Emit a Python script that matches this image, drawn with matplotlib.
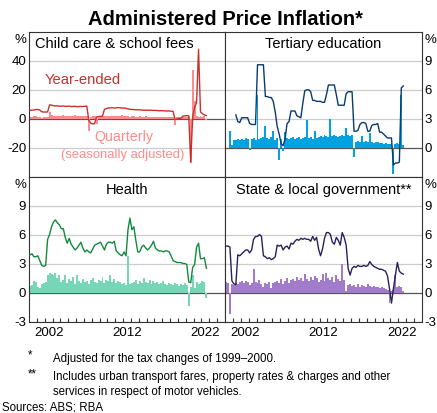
import numpy as np
import matplotlib.pyplot as plt

plt.rcParams['font.family'] = ['Liberation Sans', 'DejaVu Sans']

# quarterly observations, 2000 Q1 to 2022 Q3 (plotted at mid-quarter)
quarters = 2000.125 + 0.25 * np.arange(91)

childcare_ye = [5.8, 5.9, 6.0, 6.3, 6.4, 6.0, 4.8, 4.6, 4.6, 4.7,
                9.6, 9.4, 9.0, 8.8, 8.9, 8.6, 8.7, 8.8, 8.5, 8.6,
                8.7, 8.4, 8.5, 8.6, 8.3, 8.4, 8.5, 8.4, 8.6, 8.7,
                -1.0, -3.0, -3.6, -3.4, 1.2, 1.5, 1.6, 1.8,
                6.5, 7.0, 7.4, 7.5, 7.6, 7.4, 7.5, 7.7, 7.6, 7.3, 7.4, 7.2,
                6.8, 6.5, 6.4, 6.3, 6.2, 6.1, 6.2, 6.0, 5.9, 5.9,
                5.8, 5.9, 5.8, 5.7, 5.8, 5.6, 5.5, 5.6, 5.5, 5.4,
                5.3, 5.4, 5.2, 5.1,
                -0.5, -0.3, 0.0, 0.2, 1.8, 2.0, 2.1, 2.0,
                -30.0, 1.0, 8.0, 11.0, 48.0, 4.6, 3.5, 2.6, 2.2]
childcare_q = [1.5, 1.4, 1.6, 1.7, 1.4, 1.3, 0.4, 1.5, 1.4, 1.5,
               4.5, 2.3, 1.8, 2.0, 2.2, 1.9, 2.1, 2.4, 1.8, 2.0,
               2.2, 1.9, 2.1, 2.3, 1.8, 2.0, 2.2, 2.0, 2.1, 2.2,
               -8.7, 1.5, 1.8, 1.6, -3.5, 1.8, 1.9, 1.7,
               1.9, 2.0, 1.8, 2.1, 1.9, 1.7, 1.9, 2.0, 1.8, 2.4,
               1.6, 1.7, 1.6, 1.5, 1.6, 1.7, 1.5, 1.4, 1.6, 1.5,
               1.4, 1.6, 1.5, 1.3, 1.4, 1.5, 1.4, 1.3, 1.5, 1.4,
               1.3, 1.2, 1.4, 1.3, 1.2, 1.3,
               -4.5, 1.2, 1.4, 1.3, 1.2, 1.3, 1.2, 1.0,
               -31.0, 34.0, 12.0, 2.0, 1.5, 1.8, 1.4, 1.6, -0.8]

nan = np.nan
tertiary_ye = [nan, nan, nan, nan, nan, 3.4, 2.7, 2.6, 3.1, 3.1,
               3.1, 3.1, 2.5, 2.4, 2.4, 2.4, 8.6, 8.6, 8.6, 8.6,
               5.3, 5.3, 5.2, 5.2, 4.8, 3.7, 2.2, 1.4, 0.4, 0.2,
               0.9, 2.5, 2.7, 3.8, 3.8, 3.8, 3.3, 3.2, 3.1, 4.6,
               5.9, 6.0, 6.0, 5.8, 4.9, 4.9, 4.8, 4.8, 4.8, 4.7,
               4.7, 5.5, 6.5, 6.5, 6.5, 6.5, 5.5, 4.4, 4.4, 4.4,
               4.4, 5.6, 5.8, 5.8, 5.8, 1.7, 1.7, 1.8, 2.4, 2.6,
               2.6, 2.5, 1.7, 1.7, 2.3, 2.4, 2.4, 2.5, 1.6, 1.6,
               1.4, 1.2, 1.0, 1.0, 1.0, -1.8, -1.6, -1.6, -1.5, 6.2, 6.4]
tertiary_q = [nan, nan, 1.7, 0.3, 0.8, 0.8, 0.9, 0.8, 0.9, 0.8,
              1.0, 0.9, -0.3, 0.9, 1.0, 0.8, 5.5, 0.9, 1.0, 1.1,
              2.2, 1.0, 0.9, 1.1, 1.7, 0.8, 1.0, -1.3, 0.9, -0.4,
              1.6, 1.0, 0.9, 1.0, 1.1, 0.9, 1.0, 1.1, 0.9, 1.0,
              1.1, 2.9, 1.0, 1.1, 0.9, 1.7, 1.0, 1.1, 1.2, 1.1,
              1.3, 1.2, 1.1, 3.0, 1.2, 1.3, 1.2, 1.1, 1.2, 1.3,
              1.2, 2.0, 1.3, 1.2, 1.3, -1.0, 0.6, 0.7, 0.6, 1.2,
              0.6, 0.7, 0.6, 1.5, 0.6, 0.5, 0.6, 0.6, 0.5, 0.5,
              0.4, 0.5, 0.4, 0.4, 0.4, -2.7, 0.4, 0.5, 0.4, 5.5, 0.3]

health_ye = [3.9, 4.0, 3.7, 3.7, 3.8, 3.3, 2.8, 2.7, 2.8, 5.5,
             6.0, 6.8, 7.3, 7.5, 7.2, 7.0, 6.6, 6.6, 5.7, 5.1,
             5.6, 5.0, 4.7, 4.4, 4.6, 4.9, 5.2, 4.6, 4.2, 4.4,
             4.2, 4.1, 4.5, 4.9, 5.0, 5.1, 5.2, 4.8, 4.4, 5.0,
             5.2, 5.2, 5.1, 5.3, 4.3, 4.1, 3.9, 3.8, 4.2, 3.8,
             6.5, 7.7, 6.5, 6.8, 5.4, 4.2, 4.2, 4.7, 4.9, 4.6,
             4.4, 4.6, 4.9, 5.3, 4.6, 4.4, 4.3, 4.3, 4.2, 4.3,
             4.3, 4.2, 3.8, 3.3, 3.2, 3.1, 3.1, 3.1, 3.0, 3.0,
             2.9, 1.1, 1.0, 2.6, 2.9, 4.7, 5.1, 3.5, 3.5, 3.6, 2.5]
health_q = [0.7, 0.8, 1.2, 1.1, 0.6, 0.5, 0.9, 1.0, 1.1,
            1.8, 2.0, 1.9, 1.8, 2.0, 1.5, 1.8, 1.1, 1.3, 1.8, 1.0,
            1.4, 1.2, 1.6, 0.9, 1.8, 1.2, 1.0, 1.4, 1.1, 1.2,
            0.9, 1.3, 1.5, 1.1, 1.0, 1.3, 1.2, 1.6, 1.0, 1.3,
            1.2, 1.8, 1.1, 1.4, 1.0, 1.2, 1.1, 0.9, 1.0, 0.8,
            3.8,
            0.9, 1.0, 1.1, 1.3, 0.9, 1.2, 1.0, 1.5, 1.1, 1.0,
            1.3, 0.9, 1.2, 1.0, 1.1, 0.9, 1.0, 1.2, 0.9, 0.8,
            1.0, 0.9, 0.8, 1.0, 0.9, 0.7, 0.9, 0.8, 1.0, 0.8,
            -1.4, 0.6, 1.8, 0.5, 1.1, 0.9, 1.0, 1.2, 1.1, -0.6]

state_ye = [4.8, 4.8, 4.7, 1.2, 0.9, 0.8, 3.9, 3.8, 4.0, 4.2,
            4.4, 4.4, 4.1, 4.4, 5.5, 5.8, 5.8, 6.0, 5.8, 3.8,
            3.7, 3.5, 3.6, 3.4, 3.5, 3.7, 4.9, 4.8, 4.9, 4.4,
            4.7, 4.8, 4.5, 5.1, 5.0, 5.3, 5.5, 5.4, 5.6, 5.5,
            5.6, 5.5, 5.5, 5.3, 5.8, 5.4, 5.7, 4.5, 3.8, 4.5,
            5.6, 6.2, 6.2, 6.0, 5.2, 5.0, 5.7, 5.4, 4.9, 6.2,
            5.7, 4.9, 2.5, 1.8, 2.5, 2.7, 2.6, 2.8, 2.7, 2.7,
            2.8, 2.7, 2.8, 3.2, 2.9, 2.7, 2.6, 2.5, 2.4, 2.4,
            2.3, 2.2, 1.7, 0.4, -1.1, 0.4, 1.8, 3.1, 2.2, 2.0, 1.9]
state_q = [1.1, 1.0, -2.2, 0.9, 0.8, 1.0, 0.9, 1.1, 1.2, 1.0,
           1.2, 1.1, 0.8, 1.0, 2.4, 1.1, 1.0, 1.3, 0.9, 0.6,
           1.0, 0.9, 1.1, 0.5, 1.0, 1.1, 1.2, 1.0, 1.4, 0.9,
           1.2, 1.5, 1.0, 1.3, 1.4, 1.2, 1.6, 1.3, 1.5, 1.2,
           1.9, 1.4, 1.2, 1.6, 1.3, 1.7, 1.5, 1.1, 1.3, 1.9,
           1.2, 2.0, 1.5, 1.3, 1.6, 1.1, 1.8, 1.4, 1.2, 3.0,
           1.3, 0.2, 0.8, 0.9, 0.7, 0.8, 0.6, 0.9, 0.6, 0.8,
           0.7, 0.6, 0.9, 0.7, 0.6, 0.7, 0.6, 0.6, 0.5, 0.6,
           0.5, 0.4, 0.3, -1.1, 0.2, 0.3, 1.8, 0.6, 0.7, 0.6, 0.2]

panels = [
    ('Child care & school fees', childcare_ye, childcare_q, '#c9302c', '#ff8a8a',
     (-40, 60), [-20, 0, 20, 40]),
    ('Tertiary education', tertiary_ye, tertiary_q, '#0b3a6f', '#00a2e1',
     (-3, 12), [0, 3, 6, 9]),
    ('Health', health_ye, health_q, '#118a3c', '#76d6b5',
     (-3, 12), [-3, 0, 3, 6, 9]),
    ('State & local government**', state_ye, state_q, '#2c1f5c', '#a27ccb',
     (-3, 12), [-3, 0, 3, 6, 9]),
]

fig = plt.figure(figsize=(4.37, 4.13), dpi=100)

x0, xm, x1 = 29 / 437, 225 / 437, 422 / 437
y_top, y_mid, y_bot = 1 - 32 / 413, 1 - 176.5 / 413, 1 - 321.5 / 413
boxes = [(x0, y_mid, xm - x0, y_top - y_mid),
         (xm, y_mid, x1 - xm, y_top - y_mid),
         (x0, y_bot, xm - x0, y_mid - y_bot),
         (xm, y_bot, x1 - xm, y_mid - y_bot)]

years = np.arange(2001, 2025)

for k, (name, ye, q, lc, bc, ylim, ticks) in enumerate(panels):
    ax = fig.add_axes(boxes[k])
    ax.set_xlim(2000, 2025)
    ax.set_ylim(*ylim)

    for v in ticks:
        if v != 0:
            ax.axhline(v, color='#cccccc', lw=0.9, zorder=1)
    ax.axhline(0, color='#555555', lw=0.9, zorder=1)

    qv = np.array(q, dtype=float)
    ok = np.isfinite(qv)
    ax.bar(quarters[ok], qv[ok], width=0.25, color=bc, linewidth=0, zorder=2)
    ax.plot(quarters, ye, color=lc, lw=1.0, zorder=3)

    right = k % 2 == 1
    ax.set_yticks(ticks)
    ax.set_yticklabels([str(t) for t in ticks])
    ax.tick_params(axis='y', length=0, labelsize=9.5, pad=2,
                   left=not right, labelleft=not right,
                   right=right, labelright=right)
    ax.text(1.012 if right else -0.012, 0.985, '%', transform=ax.transAxes,
            ha='left' if right else 'right', va='top', fontsize=9.5)

    if k >= 2:
        ax.set_xticks(years, minor=True)
        ax.set_xticks([2002.5, 2012.5, 2022.5])
        ax.set_xticklabels(['2002', '2012', '2022'])
        ax.tick_params(axis='x', which='minor', direction='in', length=3,
                       width=0.8, color='#333333')
        ax.tick_params(axis='x', which='major', length=0, labelsize=9.5, pad=4)
    else:
        ax.set_xticks([])

    for s in ax.spines.values():
        s.set_color('#333333')
        s.set_linewidth(0.8)

    if k == 0:
        ax.text(0.03, 0.92, name, transform=ax.transAxes, ha='left',
                va='center', fontsize=10.5)
        ax.text(2006.85, 27, 'Year-ended', color=lc, ha='center',
                va='center', fontsize=10.6)
        ax.text(2012.1, -13, 'Quarterly', color=bc, ha='center',
                va='center', fontsize=10.3)
        ax.text(2012.0, -25, '(seasonally adjusted)', color=bc, ha='center',
                va='center', fontsize=9.4)
    else:
        ax.text(0.5, 0.92 if k < 2 else 0.91, name, transform=ax.transAxes,
                ha='center', va='center', fontsize=10.5)

fig.text(0.517, 0.952, 'Administered Price Inflation*', ha='center',
         va='center', fontsize=14.5, fontweight='bold')

fig.text(28 / 437, 1 - 355 / 413, '*', ha='left', va='center', fontsize=8.3)
fig.text(53 / 437, 1 - 359 / 413, 'Adjusted for the tax changes of 1999\u20132000.',
         ha='left', va='center', fontsize=8.3)
fig.text(28 / 437, 1 - 374 / 413, '**', ha='left', va='center', fontsize=8.3)
fig.text(53 / 437, 1 - 377 / 413,
         'Includes urban transport fares, property rates & charges and other',
         ha='left', va='center', fontsize=8.3)
fig.text(53 / 437, 1 - 392 / 413, 'services in respect of motor vehicles.',
         ha='left', va='center', fontsize=8.3)
fig.text(2 / 437, 1 - 407 / 413, 'Sources: ABS; RBA', ha='left', va='center',
         fontsize=8.3)

fig.savefig('out.png', dpi=100)
